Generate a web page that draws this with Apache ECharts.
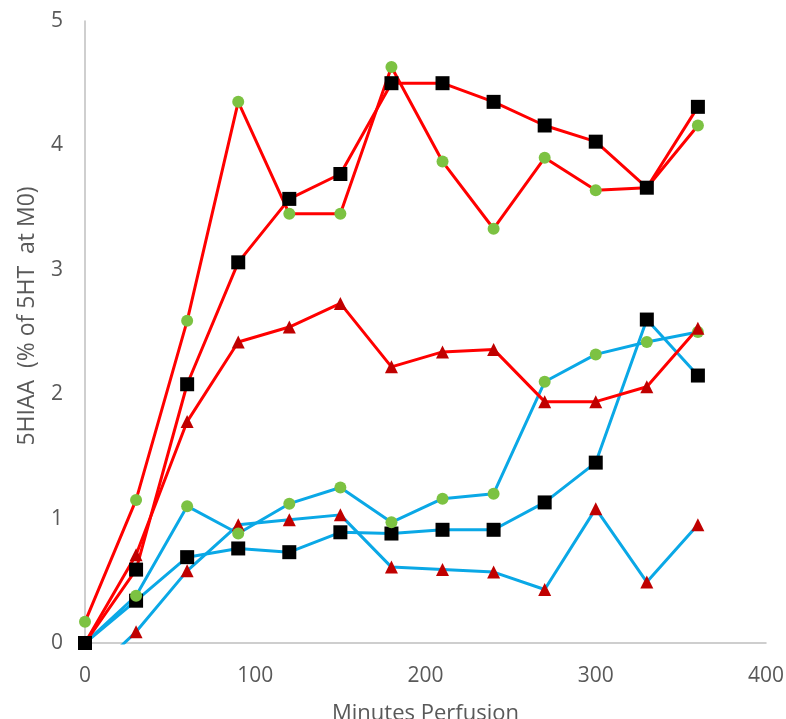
<!DOCTYPE html>
<html>
<head>
<meta charset="utf-8">
<script src="https://cdn.jsdelivr.net/npm/echarts@6/dist/echarts.min.js"></script>
<style>
  html, body { margin: 0; padding: 0; background: #fff; }
  #chart { width: 786px; height: 719px; }
</style>
</head>
<body>
<div id="chart"></div>
<script>
var minutes = [0, 30, 60, 90, 120, 150, 180, 210, 240, 270, 300, 330, 360];

// red lines
var redCircle   = [0.17, 1.15, 2.59, 4.35, 3.45, 3.45, 4.63, 3.87, 3.33, 3.90, 3.64, 3.66, 4.16];
var redSquare   = [0.00, 0.59, 2.08, 3.06, 3.57, 3.77, 4.50, 4.50, 4.35, 4.16, 4.03, 3.66, 4.31];
var redTriangle = [0.00, 0.71, 1.78, 2.42, 2.54, 2.73, 2.22, 2.34, 2.36, 1.94, 1.94, 2.06, 2.53];

// blue lines
var blueCircle   = [0.00, 0.38, 1.10, 0.88, 1.12, 1.25, 0.97, 1.16, 1.20, 2.10, 2.32, 2.42, 2.50];
var blueSquare   = [0.00, 0.34, 0.69, 0.76, 0.73, 0.89, 0.88, 0.91, 0.91, 1.13, 1.45, 2.60, 2.15];
var blueTriangle = [-0.30, 0.09, 0.58, 0.95, 0.99, 1.03, 0.61, 0.59, 0.57, 0.43, 1.08, 0.49, 0.95];

var RED = '#ff0000', BLUE = '#0aa8e6';
var GREEN = '#7cc242', BLACK = '#000000', DARKRED = '#c00000';

function pairs(vals) {
  return minutes.map(function (m, i) { return [m, vals[i]]; });
}

function mk(name, vals, lineColor, symbol, symColor, size) {
  return {
    name: name,
    type: 'line',
    data: pairs(vals),
    symbol: symbol,
    symbolSize: size,
    showAllSymbol: true,
    clip: true,
    lineStyle: { color: lineColor, width: 3 },
    itemStyle: { color: symColor, borderWidth: 0 },
    emphasis: { disabled: true },
    animation: false
  };
}

var chart = echarts.init(document.getElementById('chart'));
chart.setOption({
  animation: false,
  grid: { left: 85, right: 20, top: 21, bottom: 76, containLabel: false, outerBoundsMode: 'none' },
  xAxis: {
    type: 'value',
    min: 0, max: 400, interval: 100,
    name: 'Minutes Perfusion',
    nameLocation: 'middle',
    nameGap: 60,
    nameTextStyle: { color: '#595959', fontSize: 22, fontFamily: 'Open Sans' },
    axisLine: { show: true, lineStyle: { color: '#bfbfbf', width: 1.5 } },
    axisTick: { show: false },
    splitLine: { show: false },
    axisLabel: { color: '#595959', fontSize: 21, fontFamily: 'Open Sans', margin: 23 }
  },
  yAxis: {
    type: 'value',
    min: 0, max: 5, interval: 1,
    name: '5HIAA  (% of 5HT  at M0)',
    nameLocation: 'middle',
    nameGap: 46,
    nameTextStyle: { color: '#595959', fontSize: 23, fontFamily: 'Open Sans', padding: [0, 0, 0, 32] },
    axisLine: { show: true, lineStyle: { color: '#bfbfbf', width: 1.5 } },
    axisTick: { show: false },
    splitLine: { show: false },
    axisLabel: { color: '#595959', fontSize: 21, fontFamily: 'Open Sans', margin: 22, padding: [7, 0, 0, 0] }
  },
  series: [
    mk('blue triangle', blueTriangle, BLUE, 'triangle', DARKRED, 13),
    mk('blue square', blueSquare, BLUE, 'rect', BLACK, 14),
    mk('blue circle', blueCircle, BLUE, 'circle', GREEN, 12),
    mk('red triangle', redTriangle, RED, 'triangle', DARKRED, 13),
    mk('red circle', redCircle, RED, 'circle', GREEN, 12),
    mk('red square', redSquare, RED, 'rect', BLACK, 14)
  ]
});
</script>
</body>
</html>
